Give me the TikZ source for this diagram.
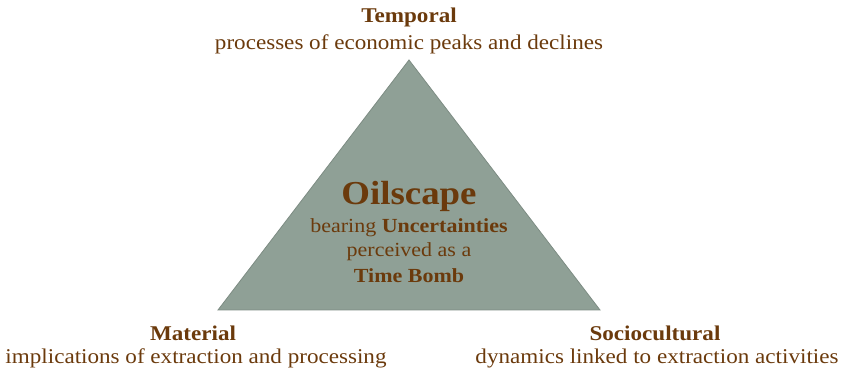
\documentclass[tikz,border=0pt]{standalone}
\usepackage{fontspec}
\setmainfont[FakeStretch=1.1]{Liberation Serif}
\definecolor{txtbrown}{HTML}{6B3A0C}
\definecolor{trifill}{HTML}{8FA096}
\definecolor{triedge}{HTML}{7D8C83}
\begin{document}
\begin{tikzpicture}[x=1pt,y=1pt,
  lbl/.style={text=txtbrown, font=\fontsize{21}{24}\selectfont, inner sep=0pt, align=center},
  head/.style={text=txtbrown, font=\fontsize{21}{24}\selectfont\bfseries, inner sep=0pt},
  inner/.style={text=txtbrown, font=\fontsize{20}{23}\selectfont, inner sep=0pt}]
\useasboundingbox (0,0) rectangle (841,374);
\coordinate (apex) at (409,314);
\coordinate (bl) at (218,64);
\coordinate (br) at (600,64);
\draw[fill=trifill, draw=triedge, line width=0.8pt] (apex) -- (br) -- (bl) -- cycle;
\node[head] (temp) at (409,357) {Temporal};
\node[lbl] (tempd) at (409,330) {processes of economic peaks and declines};
\node[text=txtbrown, font=\fontsize{33.5}{38}\selectfont\bfseries, inner sep=0pt] (oil) at (409,178) {Oilscape};
\node[inner] (bear) at (409,146) {bearing \textbf{Uncertainties}};
\node[inner] (perc) at (409,122) {perceived as a};
\node[inner] (bomb) at (409,98) {\textbf{Time Bomb}};
\node[head] (mat) at (193,41) {Material};
\node[lbl] (matd) at (196,16) {implications of extraction and processing};
\node[head] (soc) at (655,41) {Sociocultural};
\node[lbl] (socd) at (657,16) {dynamics linked to extraction activities};
\end{tikzpicture}
\end{document}
